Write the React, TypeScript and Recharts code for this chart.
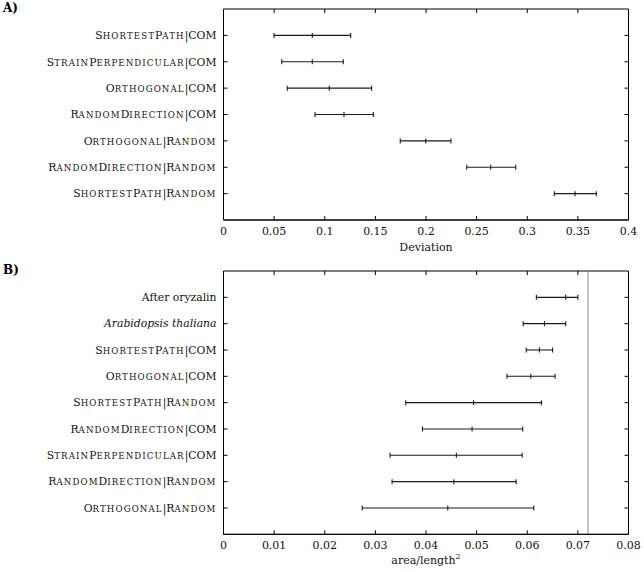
import React from 'react';
import { ScatterChart, Scatter, XAxis, YAxis, ErrorBar, ReferenceLine, ReferenceArea, Label } from 'recharts';

const FONT = '"DejaVu Serif", "Liberation Serif", serif';
const INK = '#1a1a1a';

// Panel A
const aLabels = [
  'ShortestPath|COM',
  'StrainPerpendicular|COM',
  'Orthogonal|COM',
  'RandomDirection|COM',
  'Orthogonal|Random',
  'RandomDirection|Random',
  'ShortestPath|Random',
];
const aLow = [0.0499, 0.0575, 0.063, 0.0904, 0.1746, 0.2402, 0.3267];
const aMid = [0.0877, 0.0877, 0.1045, 0.119, 0.1997, 0.2639, 0.3472];
const aHigh = [0.1256, 0.1183, 0.1463, 0.148, 0.2247, 0.2886, 0.3682];
const aTicks = [0, 0.05, 0.1, 0.15, 0.2, 0.25, 0.3, 0.35, 0.4];

// Panel B
const bLabels = [
  'After oryzalin',
  'Arabidopsis thaliana',
  'ShortestPath|COM',
  'Orthogonal|COM',
  'ShortestPath|Random',
  'RandomDirection|COM',
  'StrainPerpendicular|COM',
  'RandomDirection|Random',
  'Orthogonal|Random',
];
const bLow = [0.0618, 0.0592, 0.0598, 0.056, 0.036, 0.0393, 0.0329, 0.0333, 0.0274];
const bMid = [0.0676, 0.0634, 0.0624, 0.0607, 0.0494, 0.0491, 0.046, 0.0455, 0.0443];
const bHigh = [0.07, 0.0676, 0.065, 0.0655, 0.0628, 0.0591, 0.059, 0.0578, 0.0613];
const bTicks = [0, 0.01, 0.02, 0.03, 0.04, 0.05, 0.06, 0.07, 0.08];
const bRefValue = 0.072;

const LABEL_SIZE = 10.8;
const TICK_SIZE = 11;

function renderLabel(label: string) {
  if (label === 'Arabidopsis thaliana') {
    return <tspan fontStyle="italic">{label}</tspan>;
  }
  if (label.indexOf('|') < 0) {
    return <tspan>{label}</tspan>;
  }
  const runs = label.match(/([a-z]+|[^a-z]+)/g) || [];
  return runs.map((r, i) =>
    /[a-z]/.test(r[0]) ? (
      <tspan key={i} fontSize={LABEL_SIZE * 0.8} letterSpacing={1.1}>{r.toUpperCase()}</tspan>
    ) : (
      <tspan key={i} fontSize={LABEL_SIZE}>{r}</tspan>
    )
  );
}

const makeYTick = (labels: string[], plotW: number) => (props: any) => {
  const { x, y, payload } = props;
  const label = labels[payload.value - 1];
  return (
    <g>
      <line x1={x} x2={x + 4} y1={y} y2={y} stroke="#000" />
      <line x1={x + plotW} x2={x + plotW - 4} y1={y} y2={y} stroke="#000" />
      <text x={x - 7} y={y} dy="0.35em" textAnchor="end" fontFamily={FONT} fontSize={LABEL_SIZE} fill="#111">
        {renderLabel(label)}
      </text>
    </g>
  );
};

const makeXTick = (plotH: number) => (props: any) => {
  const { x, y, payload } = props;
  return (
    <g>
      <line x1={x} x2={x} y1={y} y2={y - 4} stroke="#000" />
      <line x1={x} x2={x} y1={y - plotH} y2={y - plotH + 4} stroke="#000" />
      <text x={x} y={y + 15} textAnchor="middle" fontFamily={FONT} fontSize={TICK_SIZE} fill="#111">
        {String(payload.value)}
      </text>
    </g>
  );
};

const MidMark = (props: any) => {
  const { cx, cy } = props;
  return <line x1={cx} x2={cx} y1={cy - 2.5} y2={cy + 2.5} stroke={INK} strokeWidth={1.1} />;
};

const W = 644;
const ML = 3.5;
const YW = 220;
const MR = 15.5;
const PLOT_W = W - ML - YW - MR;

type PanelProps = {
  top: number;
  height: number;
  marginTop: number;
  plotH: number;
  labels: string[];
  low: number[];
  mid: number[];
  high: number[];
  ticks: number[];
  title: React.ReactNode;
  titleDy: number;
  refX?: number;
};

function Panel(p: PanelProps) {
  const n = p.labels.length;
  const data = p.labels.map((l, i) => ({
    y: i + 1,
    x: p.mid[i],
    err: [p.mid[i] - p.low[i], p.high[i] - p.mid[i]],
  }));
  const xMax = p.ticks[p.ticks.length - 1];
  const xAxisH = p.height - p.marginTop - p.plotH;
  const yTicks = p.labels.map((_, i) => i + 1);
  return (
    <div style={{ position: 'absolute', left: 0, top: p.top, width: W, height: p.height }}>
      <ScatterChart
        width={W}
        height={p.height}
        margin={{ top: p.marginTop, right: MR, left: ML, bottom: 0 }}
      >
        <XAxis
          type="number"
          dataKey="x"
          domain={[0, xMax]}
          ticks={p.ticks}
          interval={0}
          height={xAxisH}
          tickSize={0}
          tickMargin={0}
          tickLine={false}
          axisLine={{ stroke: '#000' }}
          tick={makeXTick(p.plotH)}
        >
          <Label
            content={(lp: any) => {
              const vb = lp.viewBox || {};
              return (
                <text
                  x={vb.x + vb.width / 2}
                  y={vb.y + p.titleDy}
                  textAnchor="middle"
                  fontFamily={FONT}
                  fontSize={TICK_SIZE}
                  fill="#111"
                >
                  {p.title}
                </text>
              );
            }}
          />
        </XAxis>
        <YAxis
          type="number"
          dataKey="y"
          domain={[0, n + 1]}
          reversed
          ticks={yTicks}
          interval={0}
          width={YW}
          tickSize={0}
          tickMargin={0}
          tickLine={false}
          axisLine={{ stroke: '#000' }}
          tick={makeYTick(p.labels, PLOT_W)}
        />
        {p.refX !== undefined && (
          <ReferenceLine x={p.refX} stroke="#8a8a8a" strokeWidth={1} />
        )}
        <ReferenceArea x1={0} x2={xMax} y1={0} y2={n + 1} fill="none" stroke="#000" strokeWidth={1} fillOpacity={0} />
        <Scatter data={data} isAnimationActive={false} shape={<MidMark />}>
          <ErrorBar dataKey="err" direction="x" width={2.5} stroke={INK} strokeWidth={1.1} isAnimationActive={false} />
        </Scatter>
      </ScatterChart>
    </div>
  );
}

export default function App() {
  return (
    <div style={{ position: 'absolute', left: 0, top: 0, width: 644, height: 572, background: '#fff', fontFamily: FONT }}>
      <div style={{ position: 'absolute', left: 3, top: 0, fontWeight: 'bold', fontSize: 12, fontFamily: FONT, lineHeight: '16px' }}>A)</div>
      <div style={{ position: 'absolute', left: 3, top: 262, fontWeight: 'bold', fontSize: 12, fontFamily: FONT, lineHeight: '16px' }}>B)</div>
      <Panel
        top={0}
        height={260}
        marginTop={9}
        plotH={211}
        labels={aLabels}
        low={aLow}
        mid={aMid}
        high={aHigh}
        ticks={aTicks}
        title="Deviation"
        titleDy={31}
      />
      <Panel
        top={260}
        height={312}
        marginTop={11}
        plotH={263.3}
        labels={bLabels}
        low={bLow}
        mid={bMid}
        high={bHigh}
        ticks={bTicks}
        title={
          <>
            <tspan>area/length</tspan>
            <tspan dy={-5} fontSize={8}>2</tspan>
          </>
        }
        titleDy={30}
        refX={bRefValue}
      />
    </div>
  );
}
